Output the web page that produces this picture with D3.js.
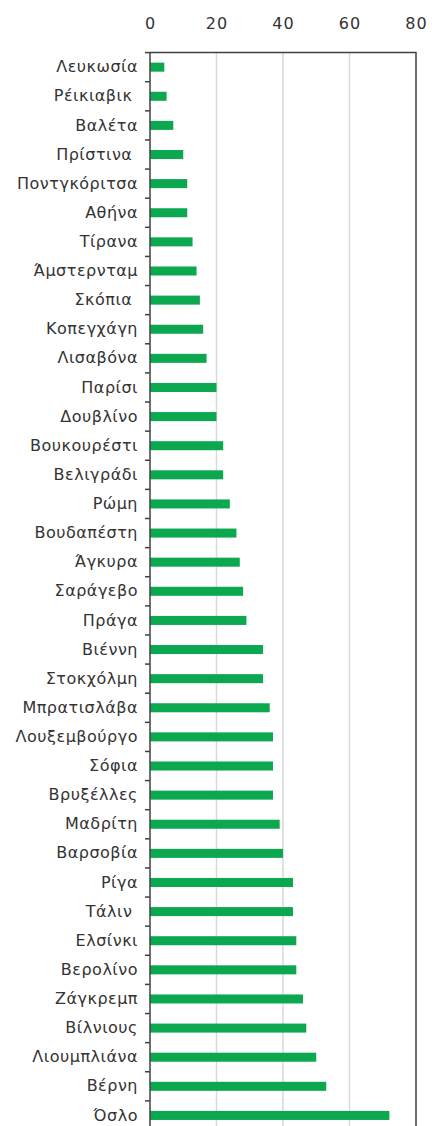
<!DOCTYPE html>
<html>
<head>
<meta charset="utf-8">
<script src="https://cdn.jsdelivr.net/npm/d3@7"></script>
<style>
  body { margin: 0; background: #fff; }
  svg { display: block; }
</style>
</head>
<body>
<div id="chart"></div>
<script>
// city names as in the source (some carry a trailing space)
var cities = ["Λευκωσία", "Ρέικιαβικ ", "Βαλέτα", "Πρίστινα ", "Ποντγκόριτσα", "Αθήνα", "Τίρανα",
    "Άμστερνταμ", "Σκόπια ", "Κοπεγχάγη", "Λισαβόνα", "Παρίσι", "Δουβλίνο", "Βουκουρέστι",
    "Βελιγράδι", "Ρώμη", "Βουδαπέστη", "Άγκυρα", "Σαράγεβο", "Πράγα", "Βιέννη", "Στοκχόλμη",
    "Μπρατισλάβα", "Λουξεμβούργο", "Σόφια", "Βρυξέλλες", "Μαδρίτη", "Βαρσοβία", "Ρίγα", "Τάλιν ",
    "Ελσίνκι", "Βερολίνο", "Ζάγκρεμπ", "Βίλνιους", "Λιουμπλιάνα", "Βέρνη", "Όσλο"];

var values = [4.3, 5, 7, 10, 11.2, 11.2, 12.8,
    14, 15, 16, 17, 20, 20, 22,
    22, 24, 26, 27, 28, 29, 34, 34,
    36, 37, 37, 37, 39, 40, 43, 43,
    44, 44, 46, 47, 50, 53, 72];

var xTicks = [0, 20, 40, 60, 80];
var gridTicks = [20, 40, 60];

var width = 432, height = 1126;
var margin = {top: 52.6, left: 150, right: 16};
var plotBottom = 1130; // plot runs just past the bottom edge of the picture

var svg = d3.select('#chart').append('svg')
    .attr('width', width)
    .attr('height', height);

var x = d3.scaleLinear().domain([0, 80]).range([margin.left, width - margin.right]);
var y = d3.scaleBand().domain(cities).range([margin.top, plotBottom]).padding(0);
var barH = y.bandwidth() * 0.31;

// gridlines
svg.append('g').selectAll('line').data(gridTicks).enter().append('line')
    .attr('x1', function (d) { return x(d); })
    .attr('x2', function (d) { return x(d); })
    .attr('y1', margin.top)
    .attr('y2', plotBottom)
    .attr('stroke', '#d9d9d9')
    .attr('stroke-width', 1.5);

// bars
svg.append('g').selectAll('rect').data(cities).enter().append('rect')
    .attr('x', x(0))
    .attr('y', function (d) { return y(d) + (y.bandwidth() - barH) / 2; })
    .attr('width', function (d, i) { return x(values[i]) - x(0); })
    .attr('height', barH)
    .attr('fill', '#0ba84f');

// frame (top + right)
svg.append('path')
    .attr('d', 'M' + x(0) + ',' + margin.top + 'H' + x(80) + 'V' + plotBottom)
    .attr('fill', 'none')
    .attr('stroke', '#404040')
    .attr('stroke-width', 1.5);

// top axis labels
var xAxis = svg.append('g')
    .attr('transform', 'translate(0,' + margin.top + ')')
    .call(d3.axisTop(x).tickValues(xTicks).tickSize(0).tickPadding(24));
xAxis.select('.domain').remove();
xAxis.selectAll('text')
    .attr('fill', '#333')
    .style('font-family', '"DejaVu Sans", sans-serif')
    .style('font-size', '16px')
    .style('letter-spacing', '1px');

// left axis: labels only, ticks drawn at band edges below
var yAxis = svg.append('g')
    .attr('transform', 'translate(' + x(0) + ',0)')
    .call(d3.axisLeft(y).tickSize(0).tickPadding(12));
yAxis.select('.domain').remove();
yAxis.selectAll('text')
    .attr('fill', '#333')
    .style('white-space', 'pre')
    .style('font-family', '"DejaVu Sans", sans-serif')
    .style('font-size', '16px')
    .style('letter-spacing', '0.5px');

var edges = cities.map(function (c) { return y(c); }).concat([plotBottom]);
svg.append('g').selectAll('line').data(edges).enter().append('line')
    .attr('x1', x(0) - 5)
    .attr('x2', x(0))
    .attr('y1', function (d) { return d; })
    .attr('y2', function (d) { return d; })
    .attr('stroke', '#404040')
    .attr('stroke-width', 1.5);

svg.append('line')
    .attr('x1', x(0)).attr('x2', x(0))
    .attr('y1', margin.top).attr('y2', plotBottom)
    .attr('stroke', '#404040')
    .attr('stroke-width', 1.5);
</script>
</body>
</html>
